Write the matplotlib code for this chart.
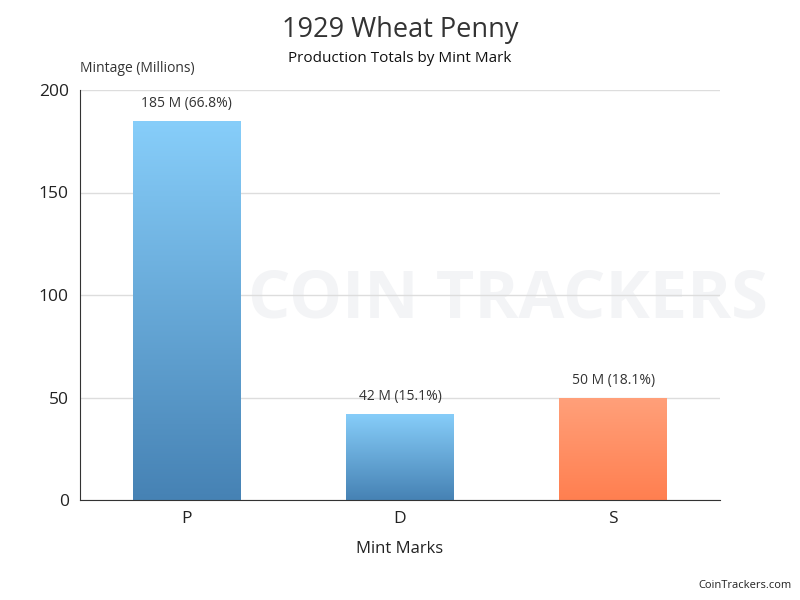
import matplotlib.pyplot as plt
import numpy as np
from matplotlib.colors import LinearSegmentedColormap

plt.rcParams["font.family"] = ["Open Sans", "DejaVu Sans"]

mints = ["P", "D", "S"]
mintage = [185, 42, 50]
labels = ["185 M (66.8%)", "42 M (15.1%)", "50 M (18.1%)"]
bar_colors = [("#4682b4", "#87cefa"), ("#4682b4", "#87cefa"), ("#ff7f50", "#ffa07a")]

fig = plt.figure(figsize=(8, 6), dpi=100)
ax = fig.add_axes([0.1, 1 - 500 / 600, 0.8, 410 / 600])

# faint watermark behind the bars
ax.text(0.635, 0.5, "COIN TRACKERS", transform=fig.transFigure, fontsize=48,
        fontweight="bold", color="#f3f4f6", ha="center", va="center",
        zorder=0.5, clip_on=False)

x = np.arange(len(mints))
bars = ax.bar(x, mintage, width=0.506, color="none", zorder=2)
grad = np.linspace(0, 1, 256).reshape(-1, 1)
for bar, (bottom, top) in zip(bars, bar_colors):
    cmap = LinearSegmentedColormap.from_list("g", [bottom, top])
    img = ax.imshow(grad, cmap=cmap, origin="lower", aspect="auto",
                    extent=[bar.get_x(), bar.get_x() + bar.get_width(), 0, bar.get_height()],
                    zorder=2)
    img.set_clip_path(bar)

for xi, v, lab in zip(x, mintage, labels):
    ax.annotate(lab, (xi, v), xytext=(0, 7), textcoords="offset points",
                ha="center", va="bottom", fontsize=10, color="#333333")

ax.set_xlim(-0.5, 2.5)
ax.set_ylim(0, 200)
ax.set_yticks([0, 50, 100, 150, 200])
ax.set_xticks(x)
ax.set_xticklabels(mints)
ax.tick_params(axis="both", length=0, labelsize=12.5, colors="#222222", pad=8)
ax.grid(axis="y", color="#dddddd", linewidth=1)
ax.set_axisbelow("line")
for s in ["top", "right"]:
    ax.spines[s].set_visible(False)
ax.spines["left"].set_color("#333333")
ax.spines["bottom"].set_color("#333333")
ax.spines["left"].set_zorder(3)
ax.spines["bottom"].set_zorder(3)

ax.set_xlabel("Mint Marks", fontsize=12, color="#222222", labelpad=10)
fig.text(0.1, 1 - 68 / 600, "Mintage (Millions)", fontsize=10, color="#333333",
         ha="left", va="center")

fig.text(0.5, 1 - 30 / 600, "1929 Wheat Penny", fontsize=19.5, color="#333333",
         ha="center", va="center")
fig.text(0.5, 1 - 58 / 600, "Production Totals by Mint Mark", fontsize=11,
         color="#111111", ha="center", va="center")
fig.text(0.99, 1 - 586 / 600, "CoinTrackers.com", fontsize=8, color="#222222",
         ha="right", va="center")

fig.savefig("out.png", dpi=100)
